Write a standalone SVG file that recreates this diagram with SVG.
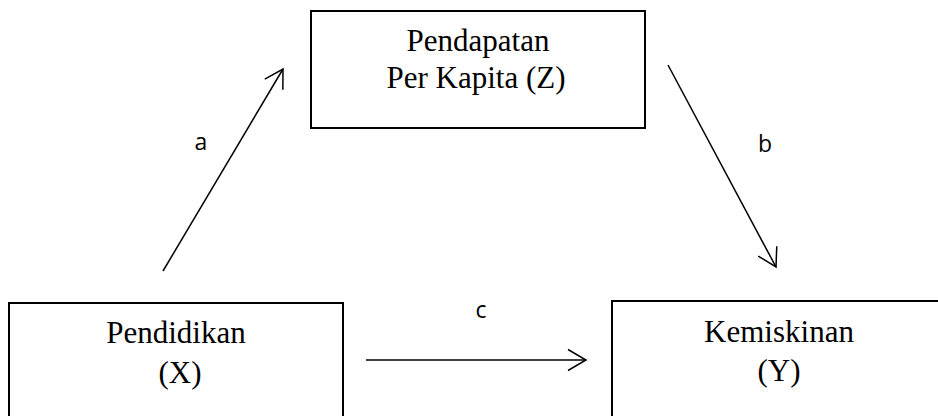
<svg xmlns="http://www.w3.org/2000/svg" width="938" height="416" viewBox="0 0 938 416">
<style>
.box{fill:#fff;stroke:#000;stroke-width:2}
.t{font-family:"Liberation Serif","Times New Roman",serif;font-size:31px;fill:#000;text-anchor:middle}
.lbl{font-family:"Open Sans","Liberation Sans",sans-serif;font-size:23px;fill:#000;text-anchor:middle}
.conn{stroke:#000;stroke-width:1.5;fill:none;marker-end:url(#arr)}
</style>
<defs>
<marker id="arr" markerUnits="userSpaceOnUse" viewBox="-22 -12 24 24" refX="0" refY="0" markerWidth="24" markerHeight="24" orient="auto">
<path d="M-18,-10.5 L0,0 L-18,10.5" fill="none" stroke="#000" stroke-width="1.5"/>
</marker>
</defs>
<g id="node-z">
<rect class="box" x="311" y="11" width="334" height="117"/>
<text class="t" x="478" y="51">Pendapatan</text>
<text class="t" x="476" y="88">Per Kapita (Z)</text>
</g>
<g id="node-x">
<rect class="box" x="9" y="303" width="334" height="130"/>
<text class="t" x="176" y="343">Pendidikan</text>
<text class="t" x="180" y="383">(X)</text>
</g>
<g id="node-y">
<rect class="box" x="612" y="301" width="340" height="130"/>
<text class="t" x="779" y="342">Kemiskinan</text>
<text class="t" x="779" y="381">(Y)</text>
</g>
<g id="connectors">
<line class="conn" x1="163" y1="271" x2="283" y2="69"/>
<line class="conn" x1="668" y1="65" x2="776" y2="267"/>
<line class="conn" x1="366" y1="360" x2="586" y2="360"/>
<text class="lbl" x="201" y="150">a</text>
<text class="lbl" x="765" y="152">b</text>
<text class="lbl" x="481" y="318">c</text>
</g>
</svg>
